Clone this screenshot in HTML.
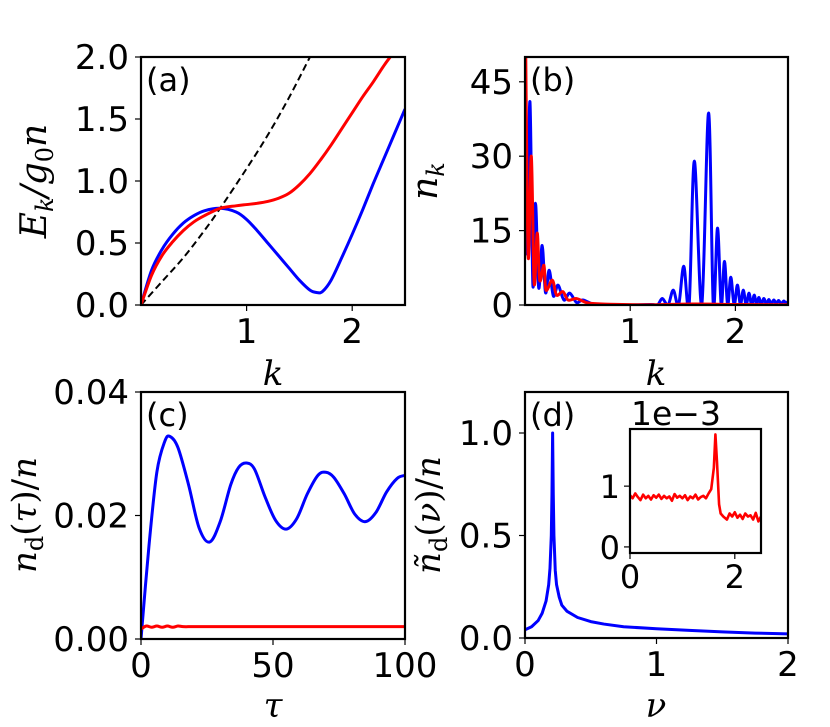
<!DOCTYPE html>
<html><head><meta charset="utf-8">
<style>
html,body{margin:0;padding:0;background:#fff;}
svg{display:block;}
text{font-family:"DejaVu Sans","Liberation Sans",sans-serif;fill:#000;}
.lab{font-family:"DejaVu Serif","Liberation Serif",serif;font-style:italic;}
</style></head>
<body>
<svg id="fig" width="830" height="727" viewBox="0 0 830 727" xmlns="http://www.w3.org/2000/svg"></svg>
<script>
// ---- Panel (a) data ----
const aBlueK=[0,0.1,0.2,0.3,0.4,0.5,0.6,0.75,0.9,1.0,1.1,1.2,1.3,1.4,1.5,1.6,1.67,1.72,1.8,1.9,2.0,2.1,2.2,2.3,2.4,2.5];
const aBlueE=[0,0.28,0.45,0.57,0.66,0.72,0.76,0.78,0.75,0.69,0.6,0.5,0.4,0.3,0.2,0.12,0.1,0.11,0.2,0.38,0.57,0.77,0.98,1.18,1.38,1.58];
const aRedK=[0,0.1,0.2,0.3,0.4,0.5,0.6,0.75,0.9,1.0,1.1,1.2,1.3,1.4,1.5,1.6,1.7,1.8,1.9,2.0,2.1,2.2,2.3,2.36];
const aRedE=[0,0.24,0.4,0.51,0.6,0.67,0.72,0.78,0.8,0.81,0.82,0.835,0.86,0.9,0.97,1.06,1.17,1.29,1.42,1.55,1.68,1.8,1.93,2.0];
const aFreeK=[0,0.2,0.4,0.6,0.75,1.0,1.2,1.4,1.6];
const aFreeE=[0,0.19,0.38,0.6,0.78,1.1,1.37,1.67,2.0];
// ---- Panel (b) data ----
const bBlueK=[0.02,0.047,0.075,0.1,0.13,0.163,0.195,0.23,0.27,0.314,0.37,0.425,0.49,0.55,0.65,0.8,1.0,1.2,1.26,1.305,1.36,1.409,1.46,1.509,1.56,1.61,1.68,1.745,1.79,1.83,1.865,1.896,1.926,1.956,1.988,2.019,2.047,2.075,2.102,2.129,2.154,2.179,2.2,2.223,2.246,2.27,2.294,2.318,2.34,2.365,2.388,2.41,2.435,2.46,2.48,2.5];
const bBlueN=[10,41,4,20.5,3.5,12,2.5,7,1.8,4,1,2.4,0.5,1,0.2,0.05,0,0.1,0,1.3,0,3,0,7.8,0,29,0,38.7,0,15.5,0,8.8,0,5.6,0,4,0,3,0,2.4,0,2,0.1,1.5,0.1,1.3,0.2,1.1,0.2,1,0.3,0.9,0.3,0.8,0.4,0.7];
const bRedK=[0.005,0.03,0.06,0.087,0.116,0.14,0.18,0.2,0.26,0.3,0.36,0.41,0.49,0.6,0.8,1.2,1.6,2.0,2.5];
const bRedN=[55,9.8,30,4.4,14.5,5,8,3,5,2,2.7,1,1.3,0.4,0.15,0.05,0.2,0.1,0.05];
// ---- Panel (c) data ----
const cTau=[0,3,6,9,11,14,18,22,26,30,34,37,40,43,47,51,55,59,63,67,70,73,77,81,85,89,93,97,100];
const cBlue=[0,0.015,0.027,0.032,0.0328,0.031,0.025,0.018,0.0157,0.019,0.025,0.0278,0.0285,0.0275,0.023,0.0192,0.0178,0.0195,0.0235,0.0265,0.027,0.0262,0.0235,0.0202,0.019,0.0205,0.0238,0.026,0.0265];
const cRedTau=[0,2,4,6,8,10,12,14,16,20,30,50,100];
const cRed=[0.0016,0.0021,0.0019,0.0021,0.0019,0.0021,0.0019,0.0021,0.002,0.002,0.002,0.002,0.002];
// ---- Panel (d) data ----
const dNu=[0,0.05,0.1,0.13,0.16,0.18,0.19,0.2,0.205,0.21,0.215,0.22,0.23,0.24,0.26,0.28,0.32,0.4,0.5,0.6,0.75,1.0,1.25,1.5,1.75,2.0];
const dBlue=[0.04,0.055,0.085,0.12,0.18,0.26,0.34,0.5,0.7,1.0,0.7,0.5,0.33,0.26,0.2,0.16,0.13,0.1,0.08,0.068,0.055,0.045,0.037,0.03,0.024,0.02];
const insNu=[0,0.05,0.1,0.15,0.2,0.25,0.3,0.35,0.4,0.45,0.5,0.55,0.6,0.65,0.7,0.75,0.8,0.85,0.9,0.95,1.0,1.05,1.1,1.15,1.2,1.25,1.3,1.35,1.4,1.45,1.5,1.55,1.6,1.63,1.66,1.7,1.73,1.78,1.85,1.9,1.95,2.0,2.05,2.1,2.15,2.2,2.25,2.3,2.35,2.4,2.45,2.5];
const insVal=[0.85,0.8,0.88,0.82,0.77,0.86,0.8,0.84,0.78,0.85,0.81,0.86,0.79,0.84,0.8,0.83,0.76,0.87,0.81,0.84,0.8,0.85,0.77,0.83,0.8,0.86,0.78,0.82,0.84,0.8,0.88,0.95,1.3,1.85,1.4,0.7,0.55,0.5,0.45,0.55,0.5,0.57,0.48,0.53,0.46,0.55,0.5,0.52,0.45,0.56,0.42,0.5];

const NS='http://www.w3.org/2000/svg';
const svg=document.getElementById('fig');
function mk(tag,attrs,parent){const e=document.createElementNS(NS,tag);for(const k in attrs)e.setAttribute(k,attrs[k]);(parent||svg).appendChild(e);return e;}
function scale(d0,d1,r0,r1){return v=>r0+(v-d0)/(d1-d0)*(r1-r0);}
function smoothPath(xs,ys){
  let d='M'+xs[0].toFixed(2)+','+ys[0].toFixed(2);
  for(let i=0;i<xs.length-1;i++){
    const x0=xs[Math.max(0,i-1)],y0=ys[Math.max(0,i-1)],x1=xs[i],y1=ys[i],x2=xs[i+1],y2=ys[i+1],x3=xs[Math.min(xs.length-1,i+2)],y3=ys[Math.min(xs.length-1,i+2)];
    const c1x=x1+(x2-x0)/6,c1y=y1+(y2-y0)/6,c2x=x2-(x3-x1)/6,c2y=y2-(y3-y1)/6;
    d+=' C'+c1x.toFixed(2)+','+c1y.toFixed(2)+' '+c2x.toFixed(2)+','+c2y.toFixed(2)+' '+x2.toFixed(2)+','+y2.toFixed(2);
  }
  return d;
}
function linePath(xs,ys){return xs.map((x,i)=>(i?'L':'M')+x.toFixed(2)+','+ys[i].toFixed(2)).join(' ');}
let clipId=0;
function panel(o){
  const g=mk('g',{});
  
  
  const X=scale(o.xd[0],o.xd[1],o.L,o.R),Y=scale(o.yd[0],o.yd[1],o.B,o.T);
  const id='clip'+(clipId++);
  const cp=mk('clipPath',{id:id},g);mk('rect',{x:o.L,y:o.T,width:o.R-o.L,height:o.B-o.T},cp);
  const plot=mk('g',{'clip-path':'url(#'+id+')'},g);
  
  
  o.series.forEach(s=>{
    const xs=s.x.map(X),ys=s.y.map(Y);
    const p=mk('path',{d:s.smooth?smoothPath(xs,ys):linePath(xs,ys),fill:'none',stroke:s.color,'stroke-width':s.w||3,'stroke-linejoin':'round'},plot);
    if(s.dash)p.setAttribute('stroke-dasharray',s.dash);
    
    
  });
  const fs=o.fs||34;
  o.xt.forEach((t,i)=>{
    const x=X(t);
    mk('line',{x1:x,x2:x,y1:o.B,y2:o.B+6,stroke:'#000','stroke-width':1.2},g);
    const tx=mk('text',{x:x,y:o.B+(o.xoff||38),'font-size':fs,'text-anchor':'middle'},g);
    tx.textContent=o.xtl[i];
    
    
  });
  o.yt.forEach((t,i)=>{
    const y=Y(t);
    mk('line',{x1:o.L-6,x2:o.L,y1:y,y2:y,stroke:'#000','stroke-width':1.2},g);
    const tx=mk('text',{x:o.L-(o.ypad||12),y:y+12,'font-size':fs,'text-anchor':'end'},g);
    tx.textContent=o.ytl[i];
    
    
  });
  const fr=mk('rect',{x:o.L,y:o.T,width:o.R-o.L,height:o.B-o.T,fill:'none',stroke:'#000','stroke-width':2.2},g);
  
  
  if(o.tag){const t=mk('text',{x:o.L+5,y:o.T+34,'font-size':32},g);t.textContent=o.tag;
    
    }
  return {X,Y,g};
}
function label(txt,x,y,rot,name,size){
  const t=mk('text',{x:x,y:y,'font-size':size||34,'text-anchor':'middle',class:'lab'});
  if(rot)t.setAttribute('transform','rotate(-90 '+x+' '+y+')');
  t.innerHTML=txt;
  
  
  return t;
}
// Panel a
panel({name:'panel-a',L:141,R:405,T:57,B:305,xd:[0,2.5],yd:[0,2],xt:[1,2],xtl:['1','2'],yt:[0,0.5,1,1.5,2],ytl:['0.0','0.5','1.0','1.5','2.0'],tag:'(a)',
 series:[{name:'free-dispersion-dashed',x:aFreeK,y:aFreeE,color:'#000',dash:'7,4',w:2,smooth:true},
         {name:'blue-dispersion',x:aBlueK,y:aBlueE,color:'#0000ff',smooth:true},
         {name:'red-dispersion',x:aRedK,y:aRedE,color:'#ff0000',smooth:true}]});
// Panel b
panel({name:'panel-b',L:525,R:788,T:57,B:305,xd:[0,2.5],yd:[0,50],xt:[1,2],xtl:['1','2'],yt:[0,15,30,45],ytl:['0','15','30','45'],tag:'(b)',
 series:[{name:'blue-momentum-distribution',x:bBlueK,y:bBlueN,color:'#0000ff',smooth:true},
         {name:'red-momentum-distribution',x:bRedK,y:bRedN,color:'#ff0000',smooth:true}]});
// Panel c
panel({name:'panel-c',L:141,R:405,T:392,B:639,xd:[0,100],yd:[0,0.04],xt:[0,50,100],xtl:['0','50','100'],yt:[0,0.02,0.04],ytl:['0.00','0.02','0.04'],tag:'(c)',
 series:[{name:'blue-depletion',x:cTau,y:cBlue,color:'#0000ff',smooth:true},
         {name:'red-depletion',x:cRedTau,y:cRed,color:'#ff0000',smooth:true}]});
// Panel d
panel({name:'panel-d',L:525,R:788,T:392,B:638,xd:[0,2],yd:[0,1.2],xt:[0,1,2],xtl:['0','1','2'],yt:[0,0.5,1],ytl:['0.0','0.5','1.0'],tag:'(d)',
 series:[{name:'blue-spectrum',x:dNu,y:dBlue,color:'#0000ff',smooth:false}]});
// inset
panel({name:'inset',L:630,R:761,T:429,B:553,xd:[0,2.5],yd:[-0.1,1.94],xt:[0,2],xtl:['0','2'],yt:[0,1],ytl:['0','1'],fs:32,xoff:35,ypad:10,
 series:[{name:'red-spectrum-inset',x:insNu,y:insVal,color:'#ff0000',w:2.6,smooth:false}]});
const ex=mk('text',{x:631,y:425,'font-size':33});ex.textContent='1e\u22123';


// axis labels
label('E<tspan font-size="24" dy="7">k</tspan><tspan dy="-7">/g</tspan><tspan font-size="24" dy="7" font-style="normal">0</tspan><tspan dy="-7">n</tspan>',46,181,true,'y-axis-title-a',36);
label('n<tspan font-size="24" dy="7">k</tspan>',437,181,true,'y-axis-title-b',36);
label('n<tspan font-size="24" dy="7" font-style="normal">d</tspan><tspan dy="-7" font-style="normal">(</tspan>τ<tspan font-style="normal">)/</tspan>n',36,515,true,'y-axis-title-c',34);
label('ñ<tspan font-size="24" dy="7" font-style="normal">d</tspan><tspan dy="-7" font-style="normal">(</tspan>ν<tspan font-style="normal">)/</tspan>n',440,515,true,'y-axis-title-d',34);
label('k',273,385,false,'x-axis-title-a',34);
label('k',656,385,false,'x-axis-title-b',34);
label('τ',273,717,false,'x-axis-title-c',34);
label('ν',656,717,false,'x-axis-title-d',34);
</script>
</body></html>
